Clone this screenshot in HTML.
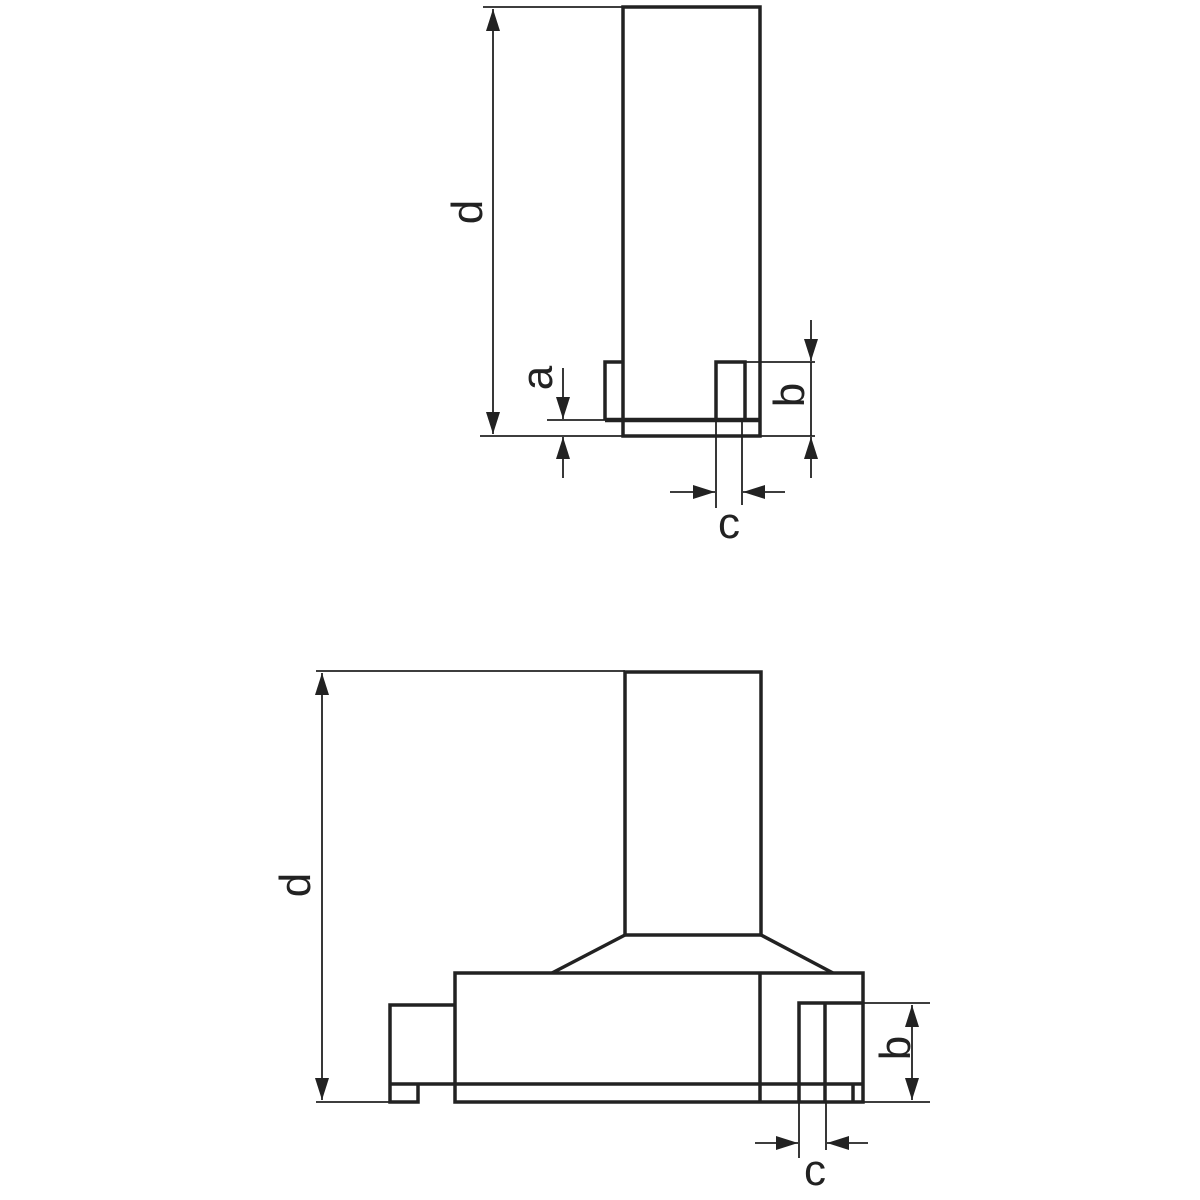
<!DOCTYPE html>
<html><head><meta charset="utf-8"><style>html,body{margin:0;padding:0;background:#fff}svg{display:block}</style></head>
<body>
<svg width="1200" height="1200" viewBox="0 0 1200 1200" xmlns="http://www.w3.org/2000/svg">
<defs>
<marker id="ar" viewBox="0 0 22 14" refX="22" refY="7" markerWidth="22" markerHeight="14" markerUnits="userSpaceOnUse" orient="auto">
<path d="M0,0 L22,7 L0,14 Z" fill="#222"/></marker>
</defs>
<g fill="none" stroke="#222" stroke-width="3.5" stroke-linejoin="miter">
<!-- top figure -->
<rect x="623" y="7" width="137" height="429"/>
<line x1="605" y1="420" x2="760" y2="420" stroke-width="4.5"/>
<polyline points="623,362 605,362 605,420"/>
<rect x="716" y="362" width="29" height="58"/>
<!-- bottom figure -->
<rect x="625" y="672" width="136" height="263"/>
<polyline points="625,935 552,973"/>
<polyline points="761,935 833,973"/>
<rect x="455" y="973" width="408" height="129"/>
<line x1="455" y1="1084" x2="863" y2="1084"/>
<line x1="760" y1="973" x2="760" y2="1102"/>
<polyline points="455,1005 390,1005 390,1102 418,1102 418,1084"/>
<line x1="390" y1="1084" x2="455" y2="1084"/>
<polyline points="863,1003 799,1003 799,1102"/>
<line x1="825" y1="1003" x2="825" y2="1102"/>
<line x1="853" y1="1084" x2="853" y2="1102"/>
</g>
<g fill="none" stroke="#222" stroke-width="1.8">
<!-- top dims -->
<line x1="483" y1="7" x2="623" y2="7"/>
<line x1="480" y1="436" x2="623" y2="436"/>
<line x1="493" y1="30" x2="493" y2="9" marker-end="url(#ar)"/>
<line x1="493" y1="410" x2="493" y2="434" marker-end="url(#ar)"/>
<line x1="493" y1="30" x2="493" y2="410"/>
<line x1="547" y1="420" x2="605" y2="420"/>
<line x1="563" y1="368" x2="563" y2="419" marker-end="url(#ar)"/>
<line x1="563" y1="478" x2="563" y2="437" marker-end="url(#ar)"/>
<line x1="745" y1="362" x2="815" y2="362"/>
<line x1="760" y1="436" x2="815" y2="436"/>
<line x1="811" y1="320" x2="811" y2="361" marker-end="url(#ar)"/>
<line x1="811" y1="478" x2="811" y2="437" marker-end="url(#ar)"/>
<line x1="811" y1="362" x2="811" y2="436"/>
<line x1="716" y1="420" x2="716" y2="508"/>
<line x1="742" y1="420" x2="742" y2="505"/>
<line x1="670" y1="492" x2="715" y2="492" marker-end="url(#ar)"/>
<line x1="785" y1="492" x2="743" y2="492" marker-end="url(#ar)"/>
<!-- bottom dims -->
<line x1="316" y1="671" x2="625" y2="671"/>
<line x1="316" y1="1102" x2="390" y2="1102"/>
<line x1="322" y1="700" x2="322" y2="673" marker-end="url(#ar)"/>
<line x1="322" y1="1070" x2="322" y2="1100" marker-end="url(#ar)"/>
<line x1="322" y1="700" x2="322" y2="1070"/>
<line x1="863" y1="1003" x2="930" y2="1003"/>
<line x1="863" y1="1102" x2="930" y2="1102"/>
<line x1="912" y1="1040" x2="912" y2="1005" marker-end="url(#ar)"/>
<line x1="912" y1="1060" x2="912" y2="1100" marker-end="url(#ar)"/>
<line x1="912" y1="1040" x2="912" y2="1060"/>
<line x1="799" y1="1102" x2="799" y2="1158"/>
<line x1="826" y1="1102" x2="826" y2="1150"/>
<line x1="755" y1="1143" x2="798" y2="1143" marker-end="url(#ar)"/>
<line x1="868" y1="1143" x2="827" y2="1143" marker-end="url(#ar)"/>
</g>
<g font-family="Liberation Sans, sans-serif" font-size="44" fill="#222" text-anchor="middle">
<text transform="translate(482,212) rotate(-90)">d</text>
<text transform="translate(310,885) rotate(-90)">d</text>
<text transform="translate(552,378) rotate(-90)">a</text>
<text transform="translate(804,395) rotate(-90)">b</text>
<text transform="translate(910,1048) rotate(-90)">b</text>
<text x="729" y="538">c</text>
<text x="815" y="1185">c</text>
</g>
</svg>
</body></html>
